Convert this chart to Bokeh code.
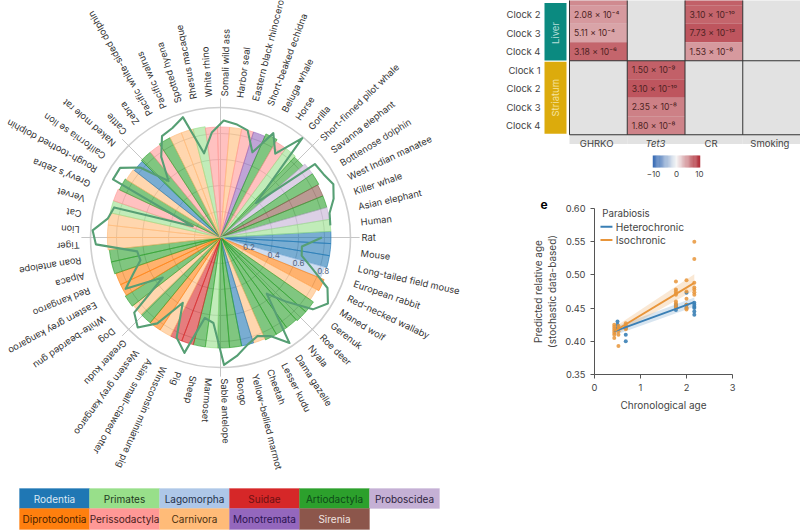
import math
from bokeh.plotting import figure
from bokeh.layouts import row, column
from bokeh.models import ColumnDataSource, LinearColorMapper, FixedTicker, PrintfTickFormatter, Title
from bokeh.core.properties import value
from bokeh.embed import file_html
from bokeh.resources import INLINE

FONT = "Inter"

species = ["Rat", "Mouse", "Long-tailed field mouse", "European rabbit", "Red-necked wallaby", "Maned wolf",
           "Gerenuk", "Roe deer", "Nyala", "Dama gazelle", "Lesser kudu", "Cheetah", "Yellow-bellied marmot",
           "Bongo", "Sable antelope", "Marmoset", "Sheep", "Pig", "Winsconsin miniature pig",
           "Asian small-clawed otter", "Western grey kangaroo", "Greater kudu", "Dog", "White-bearded gnu",
           "Eastern grey kangaroo", "Red kangaroo", "Alpaca", "Roan antelope", "Tiger", "Lion", "Cat", "Vervet",
           "Grevy's zebra", "Rough-toothed dolphin", "California se lion", "Naked mole rat", "Cattle", "Zebra",
           "Pacific white-sided dolphin", "Pacific walrus", "Spotted hyena", "Rhesus macaque", "White rhino",
           "Somali wild ass", "Harbor seal", "Eastern black rhinoceros", "Short-beaked echidna", "Beluga whale",
           "Horse", "Gorilla", "Short-finned pilot whale", "Savanna elephant", "Bottlenose dolphin",
           "West Indian manatee", "Killer whale", "Asian elephant", "Human"]
orders = ["Rodentia", "Rodentia", "Rodentia", "Lagomorpha", "Diprotodontia", "Carnivora",
          "Artiodactyla", "Artiodactyla", "Artiodactyla", "Artiodactyla", "Artiodactyla", "Carnivora", "Rodentia",
          "Artiodactyla", "Artiodactyla", "Primates", "Artiodactyla", "Suidae", "Suidae",
          "Carnivora", "Diprotodontia", "Artiodactyla", "Carnivora", "Artiodactyla",
          "Diprotodontia", "Diprotodontia", "Artiodactyla", "Artiodactyla", "Carnivora", "Carnivora", "Carnivora", "Primates",
          "Perissodactyla", "Artiodactyla", "Carnivora", "Rodentia", "Artiodactyla", "Perissodactyla",
          "Artiodactyla", "Carnivora", "Carnivora", "Primates", "Perissodactyla",
          "Perissodactyla", "Carnivora", "Perissodactyla", "Monotremata", "Artiodactyla",
          "Perissodactyla", "Primates", "Artiodactyla", "Proboscidea", "Artiodactyla",
          "Sirenia", "Artiodactyla", "Proboscidea", "Primates"]
bar_values = [.85, .85, .85, .83, .86, .84, .87, .87, .86, .86, .86, .85, .85, .85, .85, .85, .85, .85, .85,
              .85, .85, .85, .85, .86, .85, .85, .86, .86, .87, .87, .87, .87, .87, .86, .85, .84, .85, .85,
              .86, .86, .86, .86, .85, .85, .85, .85, .85, .87, .85, .85, .84, .86, .86, .85, .85, .85, .85]
line_values = [.78, .63, .64, .75, .91, .97, .90, .71, .56, .97, .85, .81, .85, .92, .98, .66, .63, .93, .84, .58,
               .82, .94, .88, .54, .83, .72, .64, .65, .96, .985, .88, .85, .23, .94, .94, .82, .59, .77, .90, .92,
               .97, .66, .81, .90, .88, .85, .70, .90, .77, .99, .38, .92, .93, .96, .92, .86, .85]
order_names = ["Rodentia", "Primates", "Lagomorpha", "Suidae", "Artiodactyla", "Proboscidea",
               "Diprotodontia", "Perissodactyla", "Carnivora", "Monotremata", "Sirenia"]
order_colors = ["#1f77b4", "#98df8a", "#aec7e8", "#d62728", "#2ca02c", "#c5b0d5",
                "#ff7f0e", "#ff9896", "#ffbb78", "#9467bd", "#8c564b"]
order_text = ["#dbe9f5", "#1e3a1e", "#23304a", "#6e1012", "#0d4a18", "#2e2440",
              "#4a2200", "#4a1c1c", "#4a3010", "#2a1250", "#f0e4e0"]
radial_ticks = [0.2, 0.4, 0.6, 0.8]

clock_rows = ["Clock 2", "Clock 3", "Clock 4", "Clock 1", "Clock 2", "Clock 3", "Clock 4"]
treatments = ["GHRKO", "Tet3", "CR", "Smoking"]
cell_col = [0, 0, 0, 2, 2, 2, 1, 1, 1, 1]
cell_row = [0, 1, 2, 0, 1, 2, 3, 4, 5, 6]
cell_z = [4.7, 4.2, 7.4, 7.4, 8.2, 4.7, 7.6, 8.2, 6.0, 5.8]
cell_p = ["2.08 × 10⁻⁴", "5.11 × 10⁻⁴", "3.18 × 10⁻⁶", "3.10 × 10⁻¹⁰", "7.73 × 10⁻¹²", "1.53 × 10⁻⁸",
          "1.50 × 10⁻⁹", "3.10 × 10⁻¹⁰", "2.35 × 10⁻⁸", "1.80 × 10⁻⁸"]
clipped_col = [0, 2]
clipped_z = [5.5, 7.6]

het_x = [.5, .5, .5, .68, .68, .68, 1.77, 1.77, 1.77, 2.0, 2.0, 2.0, 2.17, 2.17, 2.17, 2.17, 2.17, 2.17]
het_y = [.43, .425, .42, .42, .41, .40, .447, .452, .455, .473, .455, .45, .44, .445, .45, .452, .455, .458]
iso_x = [.43, .43, .43, .43, .43, .43, .43, .52, .52, .52, .52, .52, .68, .68, .68, .68,
         1.77, 1.77, 1.77, 1.77, 1.77, 1.77, 1.77, 1.77, 1.77, 2.0, 2.0, 2.0, 2.0, 2.0, 2.0,
         2.17, 2.17, 2.17, 2.17, 2.17, 2.17, 2.17]
iso_y = [.405, .41, .413, .416, .419, .422, .425, .393, .41, .415, .42, .423, .418, .421, .424, .427,
         .49, .478, .475, .472, .47, .46, .457, .453, .45, .492, .475, .464, .455, .45, .448,
         .55, .524, .488, .481, .478, .474, .47]
fit_x = [.43, 2.17]
het_fit = [.415, .459]
iso_fit = [.415, .488]
het_low, het_high = [.409, .452], [.421, .466]
iso_low, iso_high = [.409, .477], [.421, .501]
BLUE, ORANGE = "#3a7fb5", "#e8953a"

# ---------- radar ----------
CX, CY, R = 220.0, 237.0, 130.0
radar = figure(width=470, height=530, output_backend="svg", toolbar_location=None, frame_align=False,
               x_range=((0 - CX) / R, (470 - CX) / R), y_range=((CY - 530) / R, (CY - 0) / R),
               min_border=0, outline_line_color=None)
radar.axis.visible = False
radar.grid.visible = False

for rt in radial_ticks:
    radar.circle(x=[0], y=[0], radius=rt, fill_color=None, line_color="#bdbdbd", line_width=0.8)
radar.circle(x=[0], y=[0], radius=1.0, fill_color=None, line_color="#cfcfcf", line_width=1.6)
for d in range(8):
    a = math.radians(45 * d)
    radar.line([0, 1.07 * math.cos(a)], [0, 1.07 * math.sin(a)], line_color="#c6c6c6", line_width=1)

n = len(species)
step = 2 * math.pi / n
theta = [i * step for i in range(n)]
color_of = dict(zip(order_names, order_colors))
bars = ColumnDataSource(dict(r=bar_values, s=[-(t + step / 2) for t in theta], e=[-(t - step / 2) for t in theta],
                             c=[color_of[o] for o in orders]))
radar.wedge(x=0, y=0, radius="r", start_angle="s", end_angle="e", source=bars, fill_color="c", fill_alpha=0.6,
            line_color="c", line_alpha=0.75, line_width=0.8)
radar.line([r * math.cos(t) for r, t in zip(line_values, theta)],
           [-r * math.sin(t) for r, t in zip(line_values, theta)],
           line_color="#569f74", line_width=2.1, line_join="round")
labels = ColumnDataSource(dict(x=[1.085 * math.cos(t) for t in theta], y=[-1.085 * math.sin(t) for t in theta],
                               a=[-t for t in theta], t=species))
radar.text(x="x", y="y", text="t", angle="a", source=labels, text_align="left", text_baseline="middle",
           text_font=value(FONT), text_font_size="9.3px", text_color="#333333")
tick_a = math.radians(18)
radar.text(x=[(rt + .03) * math.cos(tick_a) for rt in radial_ticks], y=[-(rt + .03) * math.sin(tick_a) for rt in radial_ticks],
           text=[f"{rt:.1f}" for rt in radial_ticks], text_align="center", text_baseline="middle",
           text_font=value(FONT), text_font_size="8px", text_color="#54657e")

# legend table
def px(v): return (v - CX) / R
def py(v): return (CY - v) / R
lx, ly = [], []
for i, name in enumerate(order_names):
    rw = 0 if i < 6 else 1
    cl = i if i < 6 else i - 6
    lx.append(px(19 + 70 * cl + 35)); ly.append(py(498 if rw == 0 else 518.5))
leg = ColumnDataSource(dict(x=lx, y=ly, c=order_colors, t=order_names, tc=order_text,
                            h=[20 / R if i < 6 else 21 / R for i in range(11)]))
radar.rect(x="x", y="y", width=70 / R, height="h", source=leg, fill_color="c", line_color="c", line_width=0.3)
radar.text(x="x", y="y", text="t", source=leg, text_color="tc", text_align="center", text_baseline="middle",
           text_font=value(FONT), text_font_size="10px")

# ---------- heatmap ----------
X0, CW, Y0, RH = 569.0, 57.75, 14.0, 18.5
heat = figure(width=330, height=190, output_backend="svg", toolbar_location=None, frame_align=False,
              x_range=((470 - X0) / CW, (800 - X0) / CW), y_range=((190 - Y0) / RH, (0 - Y0) / RH),
              min_border=0, outline_line_color=None)
heat.axis.visible = False
heat.grid.visible = False
blue, mid, red = (59, 110, 182), (246, 246, 246), (178, 50, 60)
palette = []
for i in range(256):
    t = i / 255 * 2 - 1
    end = red if t > 0 else blue
    a = abs(t)
    palette.append("#%02x%02x%02x" % tuple(round(mid[k] + (end[k] - mid[k]) * a) for k in range(3)))
mapper = LinearColorMapper(palette=palette, low=-10, high=10)

heat.rect(x=[c + .5 for c in range(4)], y=[2.5] * 4, width=1, height=9, fill_color="#e2e2e2", line_color=None)
top_cells = ColumnDataSource(dict(x=[c + .5 for c in clipped_col], y=[-1] * len(clipped_col), z=clipped_z))
heat.rect(x="x", y="y", width=1, height=1, source=top_cells, fill_color={"field": "z", "transform": mapper}, line_color=None)
cells = ColumnDataSource(dict(x=[c + .5 for c in cell_col], y=cell_row, z=cell_z,
                              tx=[c + .08 for c in cell_col], p=cell_p))
heat.rect(x="x", y="y", width=1, height=1, source=cells, fill_color={"field": "z", "transform": mapper}, line_color=None)
heat.text(x="tx", y="y", text="p", source=cells, text_baseline="middle", text_align="left",
          text_font=value(FONT), text_font_size="8.6px", text_color="#4f2323")
for c in range(0, 4):
    heat.line([c, c], [-1, 6.5], line_color="#333333", line_width=1)
heat.line([0, 4], [2.5, 2.5], line_color="#333333", line_width=1)
heat.line([0, 4], [6.5, 6.5], line_color="#333333", line_width=1)
side_x = (555 - X0) / CW
side_w = 22 / CW
heat.rect(x=[side_x], y=[0.93], width=side_w, height=3.1, fill_color="#0b8a80", line_color=None)
heat.rect(x=[side_x], y=[4.5], width=side_w, height=3.9, fill_color="#dcab0c", line_color=None)
heat.text(x=[side_x, side_x], y=[1.0, 4.5], text=["Liver", "Striatum"], angle=math.pi / 2, text_align="center",
          text_baseline="middle", text_font=value(FONT), text_font_size="9.5px", text_color=["#b6dfd9", "#f5e3a0"])
heat.text(x=[(540 - X0) / CW] * len(clock_rows), y=list(range(len(clock_rows))), text=clock_rows, text_align="right",
          text_baseline="middle", text_font=value(FONT), text_font_size="9.5px", text_color="#444444")
heat.text(x=[.47, 1.49, 2.45, 3.47], y=[6.96] * 4, text=treatments, text_align="center", text_baseline="middle",
          text_font=value(FONT), text_font_size="9.5px", text_color="#444444",
          text_font_style=["normal", "italic", "normal", "normal"])
bar_z = [-10 + i * 0.5 for i in range(41)]
bar_src = ColumnDataSource(dict(x=[((676 + z * 2.3) - X0) / CW for z in bar_z], z=bar_z))
heat.rect(x="x", y=7.95, width=1.5 / CW, height=12 / RH, source=bar_src,
          fill_color={"field": "z", "transform": mapper}, line_color=None)
heat.text(x=[((676 + z * 2.3) - X0) / CW for z in (-10, 0, 10)], y=[8.6] * 3, text=["−10", "0", "10"],
          text_align="center", text_baseline="middle", text_font=value(FONT), text_font_size="8px", text_color="#444444")

# ---------- scatter ----------
sc = figure(width=330, height=230, output_backend="svg", toolbar_location=None, frame_align=False,
            x_range=(0, 3), y_range=(0.35, 0.60), outline_line_color=None,
            min_border_left=124, min_border_right=68, min_border_top=18, min_border_bottom=46)
sc.grid.visible = False
sc.xaxis.ticker = FixedTicker(ticks=[0, 1, 2, 3])
sc.yaxis.ticker = FixedTicker(ticks=[.35, .40, .45, .50, .55, .60])
sc.yaxis.formatter = PrintfTickFormatter(format="%.2f")
sc.xaxis.axis_label = "Chronological age"
sc.yaxis.axis_label = "Predicted relative age\n(stochastic data-based)"
for ax in (sc.xaxis[0], sc.yaxis[0]):
    ax.axis_line_color = "#555555"
    ax.major_tick_line_color = "#555555"
    ax.major_tick_out = 4
    ax.major_tick_in = 0
    ax.minor_tick_line_color = None
    ax.major_label_text_font = FONT
    ax.major_label_text_font_size = "9.3px"
    ax.major_label_text_color = "#444444"
    ax.axis_label_text_font = FONT
    ax.axis_label_text_font_size = "10px"
    ax.axis_label_text_font_style = "normal"
    ax.axis_label_text_color = "#444444"
sc.xaxis[0].axis_label_standoff = 5
sc.yaxis[0].axis_label_standoff = 4
sc.varea(x=fit_x, y1=het_low, y2=het_high, fill_color=BLUE, fill_alpha=0.2)
sc.varea(x=fit_x, y1=iso_low, y2=iso_high, fill_color=ORANGE, fill_alpha=0.22)
sc.scatter(het_x, het_y, size=4, fill_color=BLUE, line_color=None, fill_alpha=0.9)
sc.scatter(iso_x, iso_y, size=4, fill_color=ORANGE, line_color=None, fill_alpha=0.85)
sc.line(fit_x, het_fit, line_color=BLUE, line_width=1.8)
sc.line(fit_x, iso_fit, line_color=ORANGE, line_width=1.8)
sc.text(x=[.17], y=[.5925], text=["Parabiosis"], text_baseline="middle", text_font=value(FONT),
        text_font_size="9.7px", text_color="#444444")
sc.text(x=[.46, .46], y=[.5725, .5525], text=["Heterochronic", "Isochronic"], text_baseline="middle",
        text_font=value(FONT), text_font_size="10.2px", text_color="#444444")
sc.segment(x0=[.13, .13], x1=[.39, .39], y0=[.5725, .5525], y1=[.5725, .5525], line_color=[BLUE, ORANGE], line_width=2)
sc.add_layout(Title(text="e", align="left", offset=-54, standoff=0, text_font=FONT, text_font_size="12px",
                    text_font_style="bold", text_color="#000000"), "above")

page = row(radar, column(heat, sc, spacing=0), spacing=0)
open("out.html", "w").write(file_html(page, INLINE))
